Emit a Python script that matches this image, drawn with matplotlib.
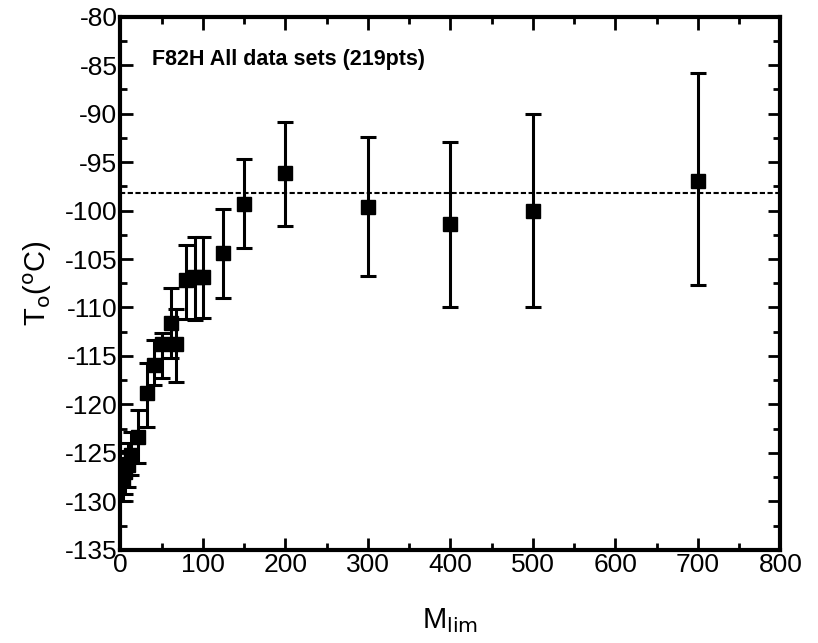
import matplotlib
matplotlib.use("Agg")
import matplotlib.pyplot as plt
from matplotlib.ticker import MultipleLocator

plt.rcParams['font.family'] = ['Liberation Sans', 'DejaVu Sans']
plt.rcParams['axes.unicode_minus'] = False

# M_lim values, mean T0 and error bar ends
m_lim = [3, 6, 9, 13, 21, 32, 41, 51, 61, 68, 80, 90, 100, 125, 150, 200, 300, 400, 500, 700]
t0 = [-127.8, -127.0, -126.3, -125.2, -123.4, -118.8, -115.9, -113.8, -111.6, -113.8,
      -107.2, -106.9, -106.9, -104.4, -99.3, -96.1, -99.6, -101.4, -100.0, -96.9]
t0_hi = [-125.5, -124.8, -124.0, -122.8, -120.6, -115.7, -113.4, -112.6, -108.0, -110.2,
         -103.6, -102.7, -102.7, -99.8, -94.7, -90.9, -92.4, -92.9, -90.0, -85.8]
t0_lo = [-130.0, -129.2, -128.5, -127.3, -126.0, -122.3, -118.0, -117.3, -115.2, -117.7,
         -111.2, -111.3, -111.1, -109.0, -103.9, -101.6, -106.8, -109.9, -109.9, -107.7]
t0_all = -98.2

err_lo = [t - lo for t, lo in zip(t0, t0_lo)]
err_hi = [hi - t for t, hi in zip(t0, t0_hi)]

fig = plt.figure(figsize=(8.18, 6.43), dpi=100)
ax = fig.add_axes([0.147, 0.145, 0.807, 0.829])

ax.errorbar(m_lim, t0, yerr=[err_lo, err_hi], fmt='s', color='black',
            markersize=10.5, elinewidth=2.2, capsize=6, capthick=2.2, zorder=3)
ax.axhline(t0_all, color='black', linestyle=(0, (2.5, 1.2)), linewidth=1.5, zorder=2)

ax.set_xlim(0, 800)
ax.set_ylim(-135, -80)
ax.xaxis.set_major_locator(MultipleLocator(100))
ax.xaxis.set_minor_locator(MultipleLocator(50))
ax.yaxis.set_major_locator(MultipleLocator(5))
ax.yaxis.set_minor_locator(MultipleLocator(2.5))
ax.tick_params(which='both', direction='in', top=True, right=True, width=2)
ax.tick_params(which='major', length=9, labelsize=19, pad=2)
ax.tick_params(which='minor', length=5)
for s in ax.spines.values():
    s.set_linewidth(3)

ax.text(38, -84.4, 'F82H All data sets (219pts)', fontsize=15.5, fontweight='bold',
        va='center', ha='left')

ax.set_ylabel(r'T$_{\rm o}$($^{\rm o}$C)', fontsize=21, labelpad=8)
ax.set_xlabel(r'M$_{\rm lim}$', fontsize=21, labelpad=21)

fig.savefig('out.png', dpi=100)
